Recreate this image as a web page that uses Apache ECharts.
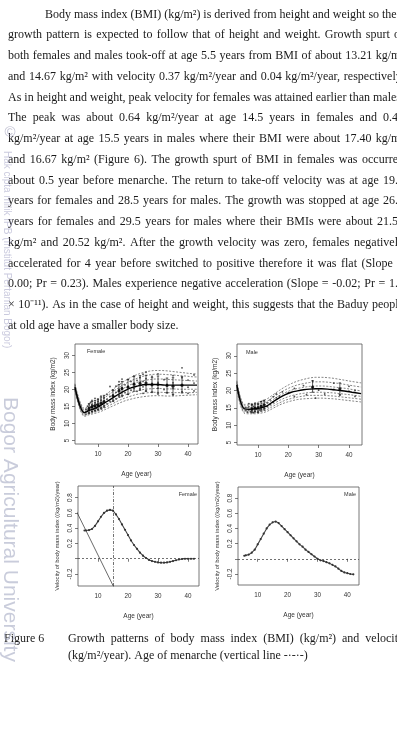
<!DOCTYPE html>
<html>
<head>
<meta charset="utf-8">
<title>Figure 6 - BMI growth patterns</title>
<script src="https://cdn.jsdelivr.net/npm/echarts@6/dist/echarts.min.js"></script>
<style>
  html, body { margin: 0; padding: 0; background: #fff; }
  #main { width: 397px; height: 749px; }
</style>
</head>
<body>
<div id="main"></div>
<script>
// ---- data ----
var ageTicks = [10, 20, 30, 40];
var bmiTicks = [5, 10, 15, 20, 25, 30];
var velocityTicks = [-0.2, 0, 0.2, 0.4, 0.6, 0.8];
var velocityLabels = [-0.2, 0.2, 0.4, 0.6, 0.8];

// fitted BMI curves, females
var femaleCurveAge = [2.3, 5.5, 7, 9, 11, 13, 15, 17, 19, 21, 23, 25, 27, 29, 31, 33, 35, 37, 39, 41, 43];
var femaleP97 = [21.7, 14.4, 15.2, 16.2, 17.4, 18.8, 20.1, 21.4, 22.6, 23.6, 24.4, 25.0, 25.4, 25.6, 25.6, 25.5, 25.3, 25.1, 24.9, 24.7, 24.6];
var femaleP90 = [21.4, 14.0, 14.8, 15.7, 16.8, 18.1, 19.4, 20.6, 21.7, 22.6, 23.3, 23.9, 24.3, 24.5, 24.5, 24.4, 24.3, 24.1, 24.0, 23.8, 23.7];
var femaleP75 = [21.1, 13.6, 14.3, 15.1, 16.1, 17.3, 18.5, 19.6, 20.6, 21.5, 22.1, 22.6, 22.9, 23.1, 23.1, 23.0, 22.9, 22.8, 22.7, 22.6, 22.5];
var femaleMean = [20.7, 13.2, 13.8, 14.5, 15.4, 16.5, 17.6, 18.7, 19.7, 20.5, 21.0, 21.4, 21.5, 21.5, 21.4, 21.3, 21.3, 21.3, 21.3, 21.3, 21.3];
var femaleP25 = [20.3, 12.7, 13.3, 13.9, 14.7, 15.6, 16.6, 17.6, 18.4, 19.1, 19.6, 20.0, 20.2, 20.3, 20.3, 20.2, 20.2, 20.1, 20.1, 20.1, 20.1];
var femaleP10 = [20.0, 12.4, 12.9, 13.4, 14.1, 15.0, 15.9, 16.8, 17.5, 18.1, 18.6, 18.9, 19.1, 19.2, 19.2, 19.1, 19.1, 19.1, 19.1, 19.1, 19.2];
var femaleP3 = [19.7, 12.1, 12.6, 13.0, 13.6, 14.4, 15.2, 16.0, 16.7, 17.2, 17.6, 17.9, 18.1, 18.2, 18.2, 18.1, 18.1, 18.2, 18.3, 18.4, 18.5];

// fitted BMI curves, males
var maleCurveAge = [3.0, 5.5, 7, 9, 11, 13, 15, 17, 19, 21, 23, 25, 27, 29, 31, 33, 35, 37, 39, 41, 44];
var maleP97 = [22.8, 16.0, 16.1, 16.4, 16.9, 17.6, 18.8, 20.0, 21.1, 22.0, 22.7, 23.2, 23.6, 23.8, 23.8, 23.7, 23.5, 23.2, 22.9, 22.6, 22.2];
var maleP90 = [22.4, 15.6, 15.6, 15.8, 16.2, 16.9, 18.1, 19.2, 20.2, 21.0, 21.6, 22.0, 22.3, 22.5, 22.5, 22.4, 22.2, 22.0, 21.7, 21.4, 21.0];
var maleP75 = [22.0, 15.1, 15.1, 15.2, 15.6, 16.2, 17.4, 18.5, 19.4, 20.1, 20.6, 20.9, 21.2, 21.3, 21.3, 21.2, 21.0, 20.8, 20.6, 20.3, 19.9];
var maleMean = [21.6, 14.7, 14.6, 14.7, 15.0, 15.6, 16.8, 17.9, 18.8, 19.5, 19.9, 20.2, 20.4, 20.5, 20.5, 20.4, 20.2, 20.0, 19.8, 19.5, 19.1];
var maleP25 = [21.2, 14.2, 14.1, 14.2, 14.5, 15.0, 16.1, 17.1, 17.9, 18.5, 18.9, 19.2, 19.4, 19.5, 19.5, 19.4, 19.3, 19.1, 18.9, 18.7, 18.3];
var maleP10 = [20.8, 13.8, 13.7, 13.8, 14.0, 14.5, 15.5, 16.4, 17.2, 17.7, 18.1, 18.4, 18.6, 18.6, 18.6, 18.5, 18.4, 18.2, 18.0, 17.8, 17.5];
var maleP3 = [20.4, 13.4, 13.3, 13.3, 13.5, 14.0, 14.9, 15.8, 16.5, 17.0, 17.4, 17.6, 17.7, 17.8, 17.8, 17.7, 17.6, 17.4, 17.2, 17.0, 16.7];

// observed BMI [age, bmi]
var femaleObs = [[6,13.5],[6,14.2],[6,12.8],[6.5,13.9],[6.5,15.1],[7,13.2],[7,14.6],[7,15.8],[7,13.9],[7.5,14.8],[7.5,16.2],[8,13.6],[8,14.9],[8,15.5],[8,16.8],[8.5,14.2],[8.5,15.3],[9,13.8],[9,15.0],[9,16.1],[9,17.4],[9.5,14.5],[9.5,15.6],[10,14.1],[10,15.3],[10,16.5],[10,17.2],[10.5,15.0],[11,14.6],[11,15.8],[11,16.9],[11,18.1],[11.5,16.0],[12,15.2],[12,16.4],[12,17.6],[13,15.8],[13,17.1],[13,18.6],[14,16.5],[14,18.0],[14,20.9],[15,16.9],[15,18.4],[15,19.8],[16,17.3],[16,19.2],[16,21.0],[17,18.2],[17,20.1],[17,22.3],[18,18.0],[18,20.5],[18,23.1],[19,19.1],[19,21.4],[20,18.6],[20,20.8],[20,23.0],[21,19.8],[21,22.4],[22,20.3],[22,21.6],[22,24.0],[23,19.5],[23,22.7],[24,20.2],[24,23.5],[25,18.9],[25,20.8],[25,22.4],[25,24.5],[26,19.6],[26,21.3],[26,23.2],[26,25.1],[28,19.2],[28,21.8],[28,23.9],[30,18.7],[30,20.4],[30,22.1],[30,24.6],[32,20.0],[32,22.9],[33,19.1],[33,21.5],[35,18.4],[35,20.3],[35,22.0],[35,24.1],[38,19.4],[38,21.2],[38,23.5],[38,26.4],[40,18.9],[40,20.7],[40,22.8],[42,19.6],[42,21.9],[42,24.3]];
var maleObs = [[6,14.2],[6,15.1],[6.5,13.8],[7,14.4],[7,15.3],[7,16.2],[7.5,13.9],[8,14.1],[8,14.8],[8,15.9],[8.5,13.6],[8.5,15.4],[9,14.0],[9,14.9],[9,16.3],[9.5,14.6],[10,13.8],[10,15.1],[10,16.0],[10.5,14.4],[11,14.7],[11,15.6],[11,16.8],[11.5,15.2],[12,14.9],[12,16.1],[12,17.0],[13,15.4],[13,16.5],[14,16.0],[14,17.3],[15,16.6],[15,18.2],[16,17.9],[16,19.0],[17,18.4],[18,19.6],[20,19.3],[22,18.3],[22,20.6],[25,21.4],[26,18.8],[28,20.9],[28,22.8],[29,17.8],[30,20.1],[32,19.0],[35,20.3],[35,22.1],[37,18.6],[40,19.8],[40,21.2],[42,18.3],[42,20.0]];

// group means with spread [age, mean, low, high]
var femaleGroups = [[7,14.4,13.0,15.8],[8,14.9,13.4,16.5],[9,15.2,13.7,16.8],[10,15.6,14.0,17.2],[11,16.0,14.3,17.8],[12,16.5,14.8,18.3],[15,18.1,16.5,19.9],[17,19.6,17.8,21.5],[18,20.3,18.3,22.4],[20,20.7,18.6,22.9],[22,21.6,19.5,23.8],[24,21.8,19.8,24.1],[26,21.9,19.5,24.2],[28,21.4,19.3,23.6],[30,21.5,19.0,24.0],[33,21.2,19.0,23.4],[35,21.0,18.6,23.5],[38,21.3,19.0,23.8]];
var maleGroups = [[8,14.7,13.6,16.0],[9,14.9,13.8,16.1],[10,15.0,13.7,16.3],[11,15.4,14.1,16.8],[12,15.8,14.4,17.2],[28,21.0,19.5,22.8],[37,20.5,18.8,22.2]];

// velocity of BMI (kg/m2/year)
var velocityAge = [5.5, 6, 7, 8, 9, 10, 11, 12, 13, 14, 15, 16, 17, 18, 19, 20, 21, 22, 23, 24, 25, 26, 27, 28, 29, 30, 31, 32, 33, 34, 35, 36, 37, 38, 39, 40, 41, 42];
var femaleVelocity = [0.37, 0.37, 0.375, 0.39, 0.43, 0.49, 0.55, 0.60, 0.63, 0.64, 0.63, 0.58, 0.52, 0.45, 0.38, 0.31, 0.24, 0.18, 0.13, 0.08, 0.04, 0.01, -0.015, -0.03, -0.04, -0.048, -0.052, -0.052, -0.048, -0.04, -0.03, -0.02, -0.01, -0.003, 0, 0, 0, 0];
var maleVelocity = [0.04, 0.045, 0.055, 0.08, 0.12, 0.19, 0.26, 0.33, 0.40, 0.45, 0.48, 0.49, 0.47, 0.43, 0.39, 0.35, 0.31, 0.27, 0.23, 0.19, 0.16, 0.12, 0.09, 0.06, 0.03, 0.0, -0.02, -0.03, -0.045, -0.06, -0.08, -0.10, -0.13, -0.16, -0.18, -0.19, -0.20, -0.205];
var menarcheAge = 15.1;
var femaleDiagonal = [[2, 0.686], [16, -0.43]];

// page text
var paragraphLines = [
  "Body mass index (BMI) (kg/m²) is derived from height and weight so their",
  "growth pattern is expected to follow that of height and weight. Growth spurt of",
  "both females and males took-off at age 5.5 years from BMI of about 13.21 kg/m²",
  "and 14.67 kg/m² with velocity 0.37 kg/m²/year and 0.04 kg/m²/year, respectively.",
  "As in height and weight, peak velocity for females was attained earlier than males.",
  "The peak was about 0.64 kg/m²/year at age 14.5 years in females and 0.49",
  "kg/m²/year at age 15.5 years in males where their BMI were about 17.40 kg/m²",
  "and 16.67 kg/m² (Figure 6). The growth spurt of BMI in females was occurred",
  "about 0.5 year before menarche. The return to take-off velocity was at age 19.5",
  "years for females and 28.5 years for males. The growth was stopped at age 26.5",
  "years for females and 29.5 years for males where their BMIs were about 21.51",
  "kg/m² and 20.52 kg/m². After the growth velocity was zero, females negatively",
  "accelerated for 4 year before switched to positive therefore it was flat (Slope =",
  "0.00; Pr = 0.23). Males experience negative acceleration (Slope = -0.02; Pr = 1.1",
  "× 10⁻¹¹).  As in the case of height and weight, this suggests that the Baduy people",
  "at old age have a smaller body size."
];
var captionLabel = "Figure 6";
var captionLine1 = "Growth patterns of body mass index (BMI) (kg/m²) and velocity";
var captionLine2 = "(kg/m²/year). Age of menarche (vertical line -·-·-)";

// ---- layout ----
var SERIF = '"Liberation Serif", "Times New Roman", serif';
var SANS = '"Liberation Sans", Arial, sans-serif';
var BODY_SIZE = 12;
var RIGHT_EDGE = 404;
var INK = '#1a1a1a';

var measureCtx = document.createElement('canvas').getContext('2d');
measureCtx.font = BODY_SIZE + 'px ' + SERIF;

function textEl(str, x, y, extra) {
  var style = {
    text: str, x: 0, y: 0, fill: INK,
    font: BODY_SIZE + 'px ' + SERIF,
    textAlign: 'left', textVerticalAlign: 'middle'
  };
  if (extra) { for (var k in extra) style[k] = extra[k]; }
  return { type: 'text', x: x, y: y, silent: true, style: style };
}

// spread words so the line ends on the page's right margin
function justifiedLine(str, x0, y, justify) {
  if (!justify) return [textEl(str, x0, y)];
  var words = str.split(/ +/);
  var widths = words.map(function (w) { return measureCtx.measureText(w).width; });
  var total = widths.reduce(function (a, b) { return a + b; }, 0);
  var gap = (RIGHT_EDGE - x0 - total) / (words.length - 1);
  var out = [];
  var x = x0;
  words.forEach(function (w, i) {
    out.push(textEl(w, x, y));
    x += widths[i] + gap;
  });
  return out;
}

var graphics = [];
paragraphLines.forEach(function (line, i) {
  var x0 = i === 0 ? 45 : 8;
  var y = 14.5 + i * 20.75;
  var last = i === paragraphLines.length - 1;
  graphics = graphics.concat(justifiedLine(line, x0, y, !last));
});
graphics.push(textEl(captionLabel, 4, 639));
graphics = graphics.concat(justifiedLine(captionLine1, 68, 639, true));
graphics.push(textEl(captionLine2, 68, 656));

// panel tags
var tagStyle = { font: '5.5px ' + SANS, fill: '#333' };
graphics.push(textEl('Female', 87, 351, tagStyle));
graphics.push(textEl('Male', 246, 352, tagStyle));
graphics.push(textEl('Female', 197, 494, { font: '5.5px ' + SANS, fill: '#333', textAlign: 'right' }));
graphics.push(textEl('Male', 356, 494, { font: '5.5px ' + SANS, fill: '#333', textAlign: 'right' }));

// repository watermark along the left edge
graphics.push(textEl('©', 10, 133, { font: '15px ' + SANS, fill: 'rgba(150,150,180,0.6)', textAlign: 'center' }));
graphics.push({
  type: 'text', x: 7, y: 151, rotation: -Math.PI / 2, silent: true, z: 10,
  style: { text: 'Hak cipta milik IPB (Institut Pertanian Bogor)', font: '10px ' + SANS,
    fill: 'rgba(150,150,190,0.5)', textAlign: 'left', textVerticalAlign: 'middle' }
});
graphics.push({
  type: 'text', x: 10, y: 397, rotation: -Math.PI / 2, silent: true, z: 10,
  style: { text: 'Bogor Agricultural University', font: '21px ' + SANS,
    fill: 'rgba(165,170,195,0.6)', textAlign: 'left', textVerticalAlign: 'middle' }
});

// ---- chart ----
var chart = echarts.init(document.getElementById('main'), null, { renderer: 'canvas' });

var AXIS_COLOR = '#444';
var LABEL_COLOR = '#333';

function makeXAxis(gi, min, max) {
  return {
    gridIndex: gi, type: 'value', min: min, max: max,
    splitLine: { show: false },
    axisLine: { show: false },
    axisTick: { show: true, length: 3, customValues: ageTicks, lineStyle: { color: AXIS_COLOR, width: 0.7 } },
    axisLabel: { customValues: ageTicks, fontSize: 6.3, color: LABEL_COLOR, fontFamily: SANS, margin: 7 },
    name: 'Age (year)', nameLocation: 'middle', nameGap: 27,
    nameTextStyle: { fontSize: 6.5, color: LABEL_COLOR, fontFamily: SANS }
  };
}

function makeYAxis(gi, min, max, ticks, labels, title, titleSize) {
  return {
    gridIndex: gi, type: 'value', min: min, max: max,
    splitLine: { show: false },
    axisLine: { show: false },
    axisTick: { show: true, length: 3, customValues: ticks, lineStyle: { color: AXIS_COLOR, width: 0.7 } },
    axisLabel: { customValues: labels, rotate: 90, fontSize: 6.3, color: LABEL_COLOR, fontFamily: SANS, margin: 5 },
    name: title, nameLocation: 'middle', nameRotate: 90, nameGap: 18,
    nameTextStyle: { fontSize: titleSize, color: LABEL_COLOR, fontFamily: SANS }
  };
}

function pairs(xs, ys) {
  return xs.map(function (x, i) { return [x, ys[i]]; });
}

function curve(gi, xs, ys, solid) {
  return {
    type: 'line', xAxisIndex: gi, yAxisIndex: gi, silent: true,
    data: pairs(xs, ys), symbol: 'none', smooth: 0.35,
    lineStyle: solid ? { color: '#000', width: 1.4 } : { color: '#333', width: 0.6, type: [2, 1.5] },
    z: solid ? 4 : 3
  };
}

function obsSeries(gi, obs) {
  return {
    type: 'scatter', xAxisIndex: gi, yAxisIndex: gi, silent: true,
    data: obs, symbol: 'circle', symbolSize: 1.8,
    itemStyle: { color: '#222' }, z: 2
  };
}

function groupMeans(gi, groups) {
  return {
    type: 'scatter', xAxisIndex: gi, yAxisIndex: gi, silent: true,
    data: groups.map(function (g) { return [g[0], g[1]]; }),
    symbol: 'circle', symbolSize: 3.2, itemStyle: { color: '#000' }, z: 5
  };
}

function errorBars(gi, groups) {
  return {
    type: 'custom', xAxisIndex: gi, yAxisIndex: gi, silent: true,
    data: groups, encode: { x: 0, y: [2, 3] }, z: 5,
    renderItem: function (params, api) {
      var hi = api.coord([api.value(0), api.value(3)]);
      var lo = api.coord([api.value(0), api.value(2)]);
      var st = { stroke: '#111', lineWidth: 0.7 };
      return {
        type: 'group', children: [
          { type: 'line', shape: { x1: hi[0], y1: hi[1], x2: lo[0], y2: lo[1] }, style: st },
          { type: 'line', shape: { x1: hi[0] - 1.2, y1: hi[1], x2: hi[0] + 1.2, y2: hi[1] }, style: st },
          { type: 'line', shape: { x1: lo[0] - 1.2, y1: lo[1], x2: lo[0] + 1.2, y2: lo[1] }, style: st }
        ]
      };
    }
  };
}

var zeroLine = { yAxis: 0, lineStyle: { type: [2, 2], color: '#333', width: 0.7 } };

function velocitySeries(gi, ys, markData) {
  return {
    type: 'line', xAxisIndex: gi, yAxisIndex: gi, silent: true,
    data: pairs(velocityAge, ys), symbol: 'circle', symbolSize: 2.2, showSymbol: true,
    itemStyle: { color: '#333' },
    lineStyle: { color: '#444', width: 1.1 },
    markLine: { silent: true, symbol: 'none', label: { show: false }, animation: false, data: markData },
    z: 3
  };
}

var gridBox = { show: true, borderColor: '#555', borderWidth: 0.8, backgroundColor: 'transparent' };

chart.setOption({
  animation: false,
  backgroundColor: '#fff',
  grid: [
    Object.assign({ left: 75, top: 344, width: 123, height: 100 }, gridBox),
    Object.assign({ left: 237, top: 344, width: 125, height: 101 }, gridBox),
    Object.assign({ left: 78, top: 486, width: 121, height: 100 }, gridBox),
    Object.assign({ left: 238, top: 487, width: 121, height: 98 }, gridBox)
  ],
  xAxis: [
    makeXAxis(0, 2.33, 43.33),
    makeXAxis(1, 3.07, 44.3),
    makeXAxis(2, 3.33, 43.67),
    makeXAxis(3, 3.4, 43.9)
  ],
  yAxis: [
    makeYAxis(0, 4.0, 33.4, bmiTicks, bmiTicks, 'Body mass index (kg/m2)', 6.5),
    makeYAxis(1, 4.3, 33.4, bmiTicks, bmiTicks, 'Body mass index (kg/m2)', 6.5),
    makeYAxis(2, -0.357, 0.953, velocityTicks, velocityLabels, 'Velocity of body mass index ((kg/m2)/year)', 5.8),
    makeYAxis(3, -0.345, 0.945, velocityTicks, velocityLabels, 'Velocity of body mass index ((kg/m2)/year)', 5.8)
  ],
  series: [
    obsSeries(0, femaleObs),
    curve(0, femaleCurveAge, femaleP97), curve(0, femaleCurveAge, femaleP90), curve(0, femaleCurveAge, femaleP75),
    curve(0, femaleCurveAge, femaleP25), curve(0, femaleCurveAge, femaleP10), curve(0, femaleCurveAge, femaleP3),
    curve(0, femaleCurveAge, femaleMean, true),
    errorBars(0, femaleGroups), groupMeans(0, femaleGroups),

    obsSeries(1, maleObs),
    curve(1, maleCurveAge, maleP97), curve(1, maleCurveAge, maleP90), curve(1, maleCurveAge, maleP75),
    curve(1, maleCurveAge, maleP25), curve(1, maleCurveAge, maleP10), curve(1, maleCurveAge, maleP3),
    curve(1, maleCurveAge, maleMean, true),
    errorBars(1, maleGroups), groupMeans(1, maleGroups),

    velocitySeries(2, femaleVelocity, [
      zeroLine,
      { xAxis: menarcheAge, lineStyle: { type: [3, 1.5, 1, 1.5], color: '#333', width: 0.7 } }
    ]),
    {
      type: 'line', xAxisIndex: 2, yAxisIndex: 2, silent: true,
      data: femaleDiagonal, symbol: 'none',
      lineStyle: { color: '#444', width: 0.8 }, z: 2
    },
    velocitySeries(3, maleVelocity, [zeroLine])
  ],
  graphic: graphics
});
</script>
</body>
</html>
